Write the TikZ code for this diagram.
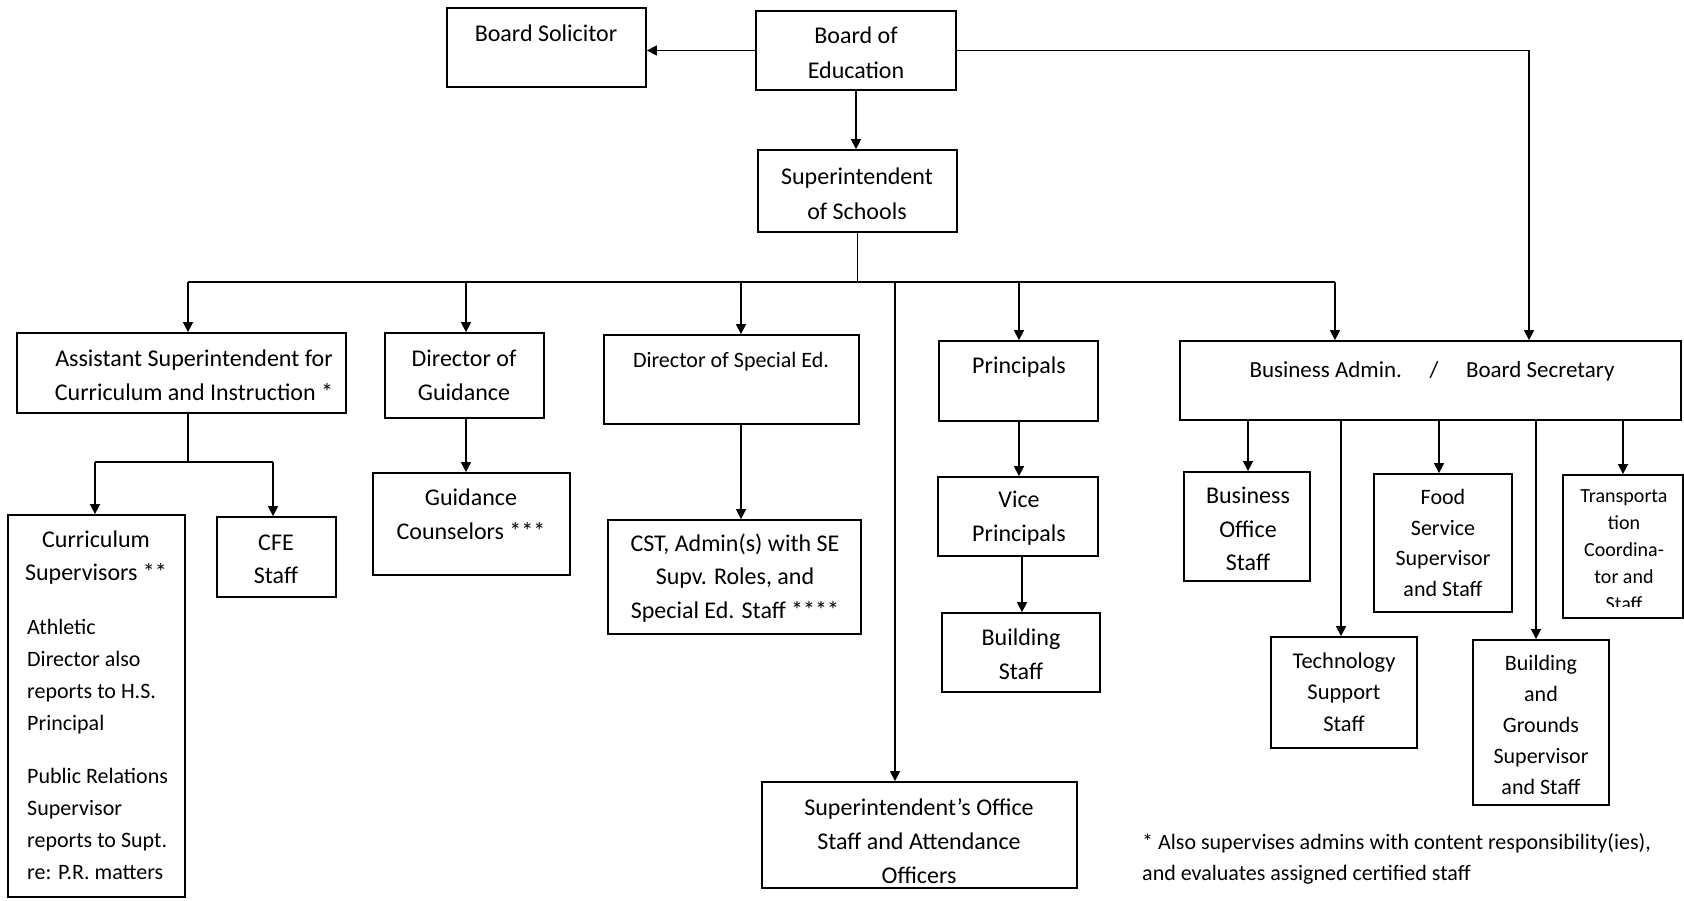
\documentclass[tikz,border=0pt]{standalone}
\usepackage{fontspec}
\setmainfont{Carlito}
\usetikzlibrary{fit,arrows.meta}
\begin{document}
\begin{tikzpicture}[x=1pt,y=-1pt,
 box/.style={draw, line width=1.8pt, inner sep=0pt, rectangle},
 txt/.style={align=center, inner sep=0pt, font=\fontsize{24}{33}\selectfont},
 arr/.style={line width=1.5pt, -{Triangle[length=10pt,width=10pt]}},
 ln/.style={line width=1.5pt}]
\useasboundingbox (0,0) rectangle (1684,900);

% boxes
\node[box, fit={(447,8) (646,87)}] (bs) {};
\node[box, fit={(756,11) (956,90)}] (boe) {};
\node[box, fit={(758,150) (957,232)}] (sup) {};
\node[box, fit={(17,333) (346,413)}] (asst) {};
\node[box, fit={(385,333) (544,418)}] (dg) {};
\node[box, fit={(604,335) (859,424)}] (dse) {};
\node[box, fit={(939,341) (1098,421)}] (pr) {};
\node[box, fit={(1180,341) (1681,420)}] (ba) {};
\node[box, fit={(8,515) (185,897)}] (cs) {};
\node[box, fit={(217,517) (336,597)}] (cfe) {};
\node[box, fit={(373,473) (570,575)}] (gc) {};
\node[box, fit={(608,520) (861,634)}] (cst) {};
\node[box, fit={(938,477) (1098,556)}] (vp) {};
\node[box, fit={(942,613) (1100,692)}] (bst) {};
\node[box, fit={(1184,472) (1310,581)}] (bos) {};
\node[box, fit={(1374,474) (1512,612)}] (food) {};
\node[box, fit={(1563,475) (1683,618)}] (trans) {};
\node[box, fit={(1271,637) (1417,748)}] (tech) {};
\node[box, fit={(1473,640) (1609,805)}] (bg) {};
\node[box, fit={(762,782) (1077,888)}] (so) {};

% texts
\node[txt] (bsT) at (546,33) {Board Solicitor};
\node[txt, font=\fontsize{24}{35}\selectfont] (boeT) at (856,53) {Board of\\Education};
\node[txt, font=\fontsize{24}{35}\selectfont] (supT) at (857,194) {Superintendent\\of Schools};
\node[txt, font=\fontsize{24}{34}\selectfont] (asstT) at (194,375) {Assistant Superintendent for\\Curriculum and Instruction *};
\node[txt, font=\fontsize{24}{34}\selectfont] (dgT) at (464,375) {Director of\\Guidance};
\node[txt, font=\fontsize{22}{33}\selectfont] (dseT) at (731,362) {Director of Special Ed.};
\node[txt] (prT) at (1019,367) {Principals};
\node[txt, font=\fontsize{23}{33}\selectfont] (baT) at (1432,371) {Business Admin.\hspace{1.2em}/\hspace{1.2em}Board Secretary};
\node[txt, font=\fontsize{24}{33}\selectfont] (csT) at (96,558) {Curriculum\\Supervisors **};
\node[txt, align=left, anchor=west, font=\fontsize{22}{32}\selectfont] (csA) at (27,677) {Athletic\\Director also\\reports to H.S.\\Principal};
\node[txt, align=left, anchor=west, font=\fontsize{22}{32}\selectfont] (csB) at (27,824) {Public Relations\\Supervisor\\reports to Supt.\\re: P.R. matters};
\node[txt, font=\fontsize{24}{33}\selectfont] (cfeT) at (276,559) {CFE\\Staff};
\node[txt, font=\fontsize{24}{34}\selectfont] (gcT) at (471,514) {Guidance\\Counselors ***};
\node[txt, font=\fontsize{24}{33.5}\selectfont] (cstT) at (735,578) {CST, Admin(s) with SE\\Supv. Roles, and\\Special Ed. Staff ****};
\node[txt, font=\fontsize{24}{34}\selectfont] (vpT) at (1019,518) {Vice\\Principals};
\node[txt, font=\fontsize{24}{34}\selectfont] (bstT) at (1021,654) {Building\\Staff};
\node[txt, font=\fontsize{24}{33.5}\selectfont] (bosT) at (1248,529) {Business\\Office\\Staff};
\node[txt, font=\fontsize{22}{30.5}\selectfont] (foodT) at (1443,543) {Food\\Service\\Supervisor\\and Staff};
\begin{scope}
\clip (1563,475) rectangle (1683,606);
\node[txt, font=\fontsize{20}{27}\selectfont] (transT) at (1624,550) {Transporta\\tion\\Coordina-\\tor and\\Staff};
\end{scope}
\node[txt, font=\fontsize{22.5}{31.5}\selectfont] (techT) at (1344,692) {Technology\\Support\\Staff};
\node[txt, font=\fontsize{22}{31}\selectfont] (bgT) at (1541,725) {Building\\and\\Grounds\\Supervisor\\and Staff};
\node[txt, font=\fontsize{24}{34}\selectfont] (soT) at (919,841) {Superintendent’s Office\\Staff and Attendance\\Officers};
\node[txt, align=left, anchor=west, font=\fontsize{22}{31}\selectfont] (fn) at (1142,859) {* Also supervises admins with content responsibility(ies),\\and evaluates assigned certified staff};

% connectors
\coordinate (k1) at (1529,0);
\draw[arr] (boe.west) -- (boe.west -| bs.east);
\draw[arr] (boe.east) -| (k1 |- ba.north);
\draw[arr] (boe.south) -- (boe.south |- sup.north);

\coordinate (busL) at (188,282);
\coordinate (busR) at (1335,282);
\coordinate (t2) at (466,282);
\coordinate (t3) at (741,282);
\coordinate (t4) at (1019,282);
\coordinate (t5) at (895,282);
\draw[ln] (sup.south) -- (sup.south |- busL);
\draw[ln] (busL) -- (busR);
\draw[arr] (busL) -- (busL |- asst.north);
\draw[arr] (t2) -- (t2 |- dg.north);
\draw[arr] (t3) -- (t3 |- dse.north);
\draw[arr] (t4) -- (t4 |- pr.north);
\draw[arr] (t5) -- (t5 |- so.north);
\draw[arr] (busR) -- (busR |- ba.north);

\coordinate (a1) at (188,462);
\coordinate (a2) at (95,462);
\coordinate (a3) at (273,462);
\draw[ln] (asst.south -| a1) -- (a1);
\draw[ln] (a2) -- (a3);
\draw[arr] (a2) -- (a2 |- cs.north);
\draw[arr] (a3) -- (a3 |- cfe.north);

\coordinate (d1) at (466,0);
\coordinate (d2) at (741,0);
\coordinate (d3) at (1019,0);
\coordinate (d4) at (1022,0);
\draw[arr] (dg.south -| d1) -- (gc.north -| d1);
\draw[arr] (dse.south -| d2) -- (cst.north -| d2);
\draw[arr] (pr.south -| d3) -- (vp.north -| d3);
\draw[arr] (vp.south -| d4) -- (bst.north -| d4);

\coordinate (b1) at (1248,0);
\coordinate (b2) at (1341,0);
\coordinate (b3) at (1439,0);
\coordinate (b4) at (1536,0);
\coordinate (b5) at (1623,0);
\draw[arr] (ba.south -| b1) -- (bos.north -| b1);
\draw[arr] (ba.south -| b2) -- (tech.north -| b2);
\draw[arr] (ba.south -| b3) -- (food.north -| b3);
\draw[arr] (ba.south -| b4) -- (bg.north -| b4);
\draw[arr] (ba.south -| b5) -- (trans.north -| b5);
\end{tikzpicture}
\end{document}
